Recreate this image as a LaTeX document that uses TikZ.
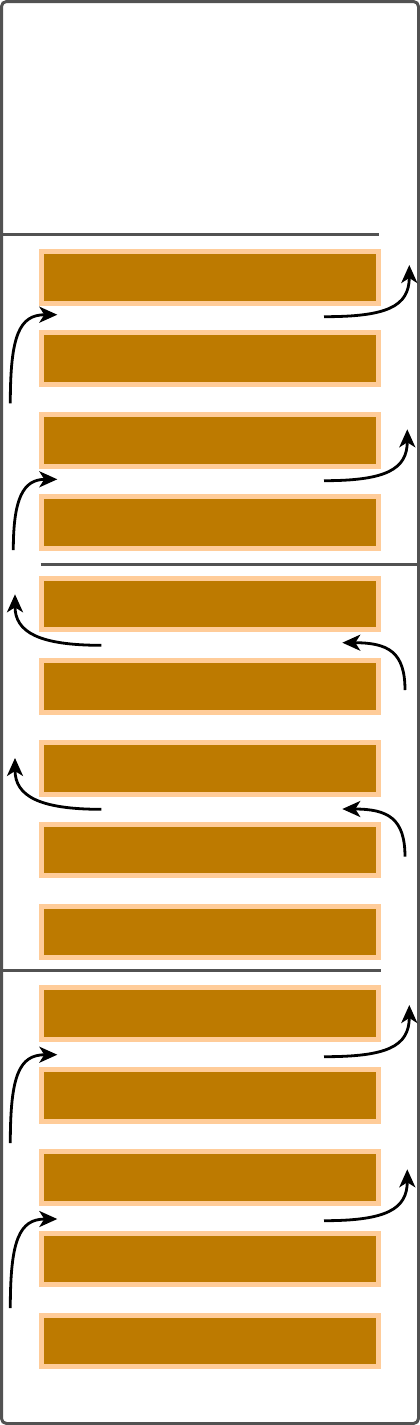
\documentclass[tikz,border=0pt]{standalone}
\usetikzlibrary{arrows.meta}
\definecolor{framegray}{RGB}{82,82,82}
\definecolor{barfill}{RGB}{189,122,0}
\definecolor{barline}{RGB}{255,204,153}
\tikzset{
  bar/.style={rectangle, draw=barline, fill=barfill, line width=5pt,
    minimum width=336.7pt, minimum height=51.4pt, inner sep=0pt, outer sep=0pt},
  divider/.style={draw=framegray, line width=3pt},
  flow/.style={draw=black, line width=2.8pt,
    -{Stealth[length=18pt, width=16pt, inset=5pt]}},
}
\begin{document}
\begin{tikzpicture}[x=1pt, y=-1pt]
\useasboundingbox (0,0) rectangle (420,1425);
\draw[divider, rounded corners=5pt] (1.5,1.5) rectangle (418.5,1423.5);
% dividers
\coordinate (d1a) at (3,234.5);   \coordinate (d1b) at (378.5,234.5);
\coordinate (d2a) at (40.5,564.8); \coordinate (d2b) at (417,564.8);
\coordinate (d3a) at (3,970.5);   \coordinate (d3b) at (380.5,970.5);
\draw[divider] (d1a) -- (d1b);
\draw[divider] (d2a) -- (d2b);
\draw[divider] (d3a) -- (d3b);
% bars
\foreach \i/\y in {1/277.3,2/358.5,3/440.5,4/522.3,5/604.2,6/686.3,7/768.3,
                   8/850,9/931.7,10/1013.5,11/1095.5,12/1177.3,13/1259.2,14/1341}
  \node[bar] (b\i) at (210,\y) {};
% section 1 arrows
\coordinate (l1s) at (10.3,403.3); \coordinate (l1e) at (57.3,314.7);
\coordinate (r1s) at (324,316.7);  \coordinate (r1e) at (409.3,265);
\coordinate (l2s) at (13.3,550);   \coordinate (l2e) at (57.3,479.3);
\coordinate (r2s) at (324,480.7);  \coordinate (r2e) at (407.3,429.3);
\draw[flow] (l1s) .. controls +(0,-68) and +(-38,0) .. (l1e);
\draw[flow] (r1s) .. controls +(62,0) and +(0,42) .. (r1e);
\draw[flow] (l2s) .. controls +(0,-52) and +(-34,0) .. (l2e);
\draw[flow] (r2s) .. controls +(62,0) and +(0,40) .. (r2e);
% section 2 arrows
\coordinate (l3s) at (101.3,645.3); \coordinate (l3e) at (15,594.3);
\coordinate (r3s) at (405,690);     \coordinate (r3e) at (342.3,642.7);
\coordinate (l4s) at (101.3,809.3); \coordinate (l4e) at (15,758);
\coordinate (r4s) at (405,856.7);   \coordinate (r4e) at (342.3,809);
\draw[flow] (l3s) .. controls +(-62,0) and +(0,38) .. (l3e);
\draw[flow] (r3s) .. controls +(0,-38) and +(46,0) .. (r3e);
\draw[flow] (l4s) .. controls +(-62,0) and +(0,38) .. (l4e);
\draw[flow] (r4s) .. controls +(0,-38) and +(46,0) .. (r4e);
% section 3 arrows
\coordinate (l5s) at (10.3,1143);  \coordinate (l5e) at (57.3,1054.7);
\coordinate (r5s) at (324,1056.7); \coordinate (r5e) at (409.3,1005);
\coordinate (l6s) at (10.3,1308);  \coordinate (l6e) at (57.3,1219);
\coordinate (r6s) at (324,1220.7); \coordinate (r6e) at (407.3,1169.3);
\draw[flow] (l5s) .. controls +(0,-68) and +(-38,0) .. (l5e);
\draw[flow] (r5s) .. controls +(62,0) and +(0,42) .. (r5e);
\draw[flow] (l6s) .. controls +(0,-68) and +(-38,0) .. (l6e);
\draw[flow] (r6s) .. controls +(62,0) and +(0,40) .. (r6e);
\end{tikzpicture}
\end{document}
